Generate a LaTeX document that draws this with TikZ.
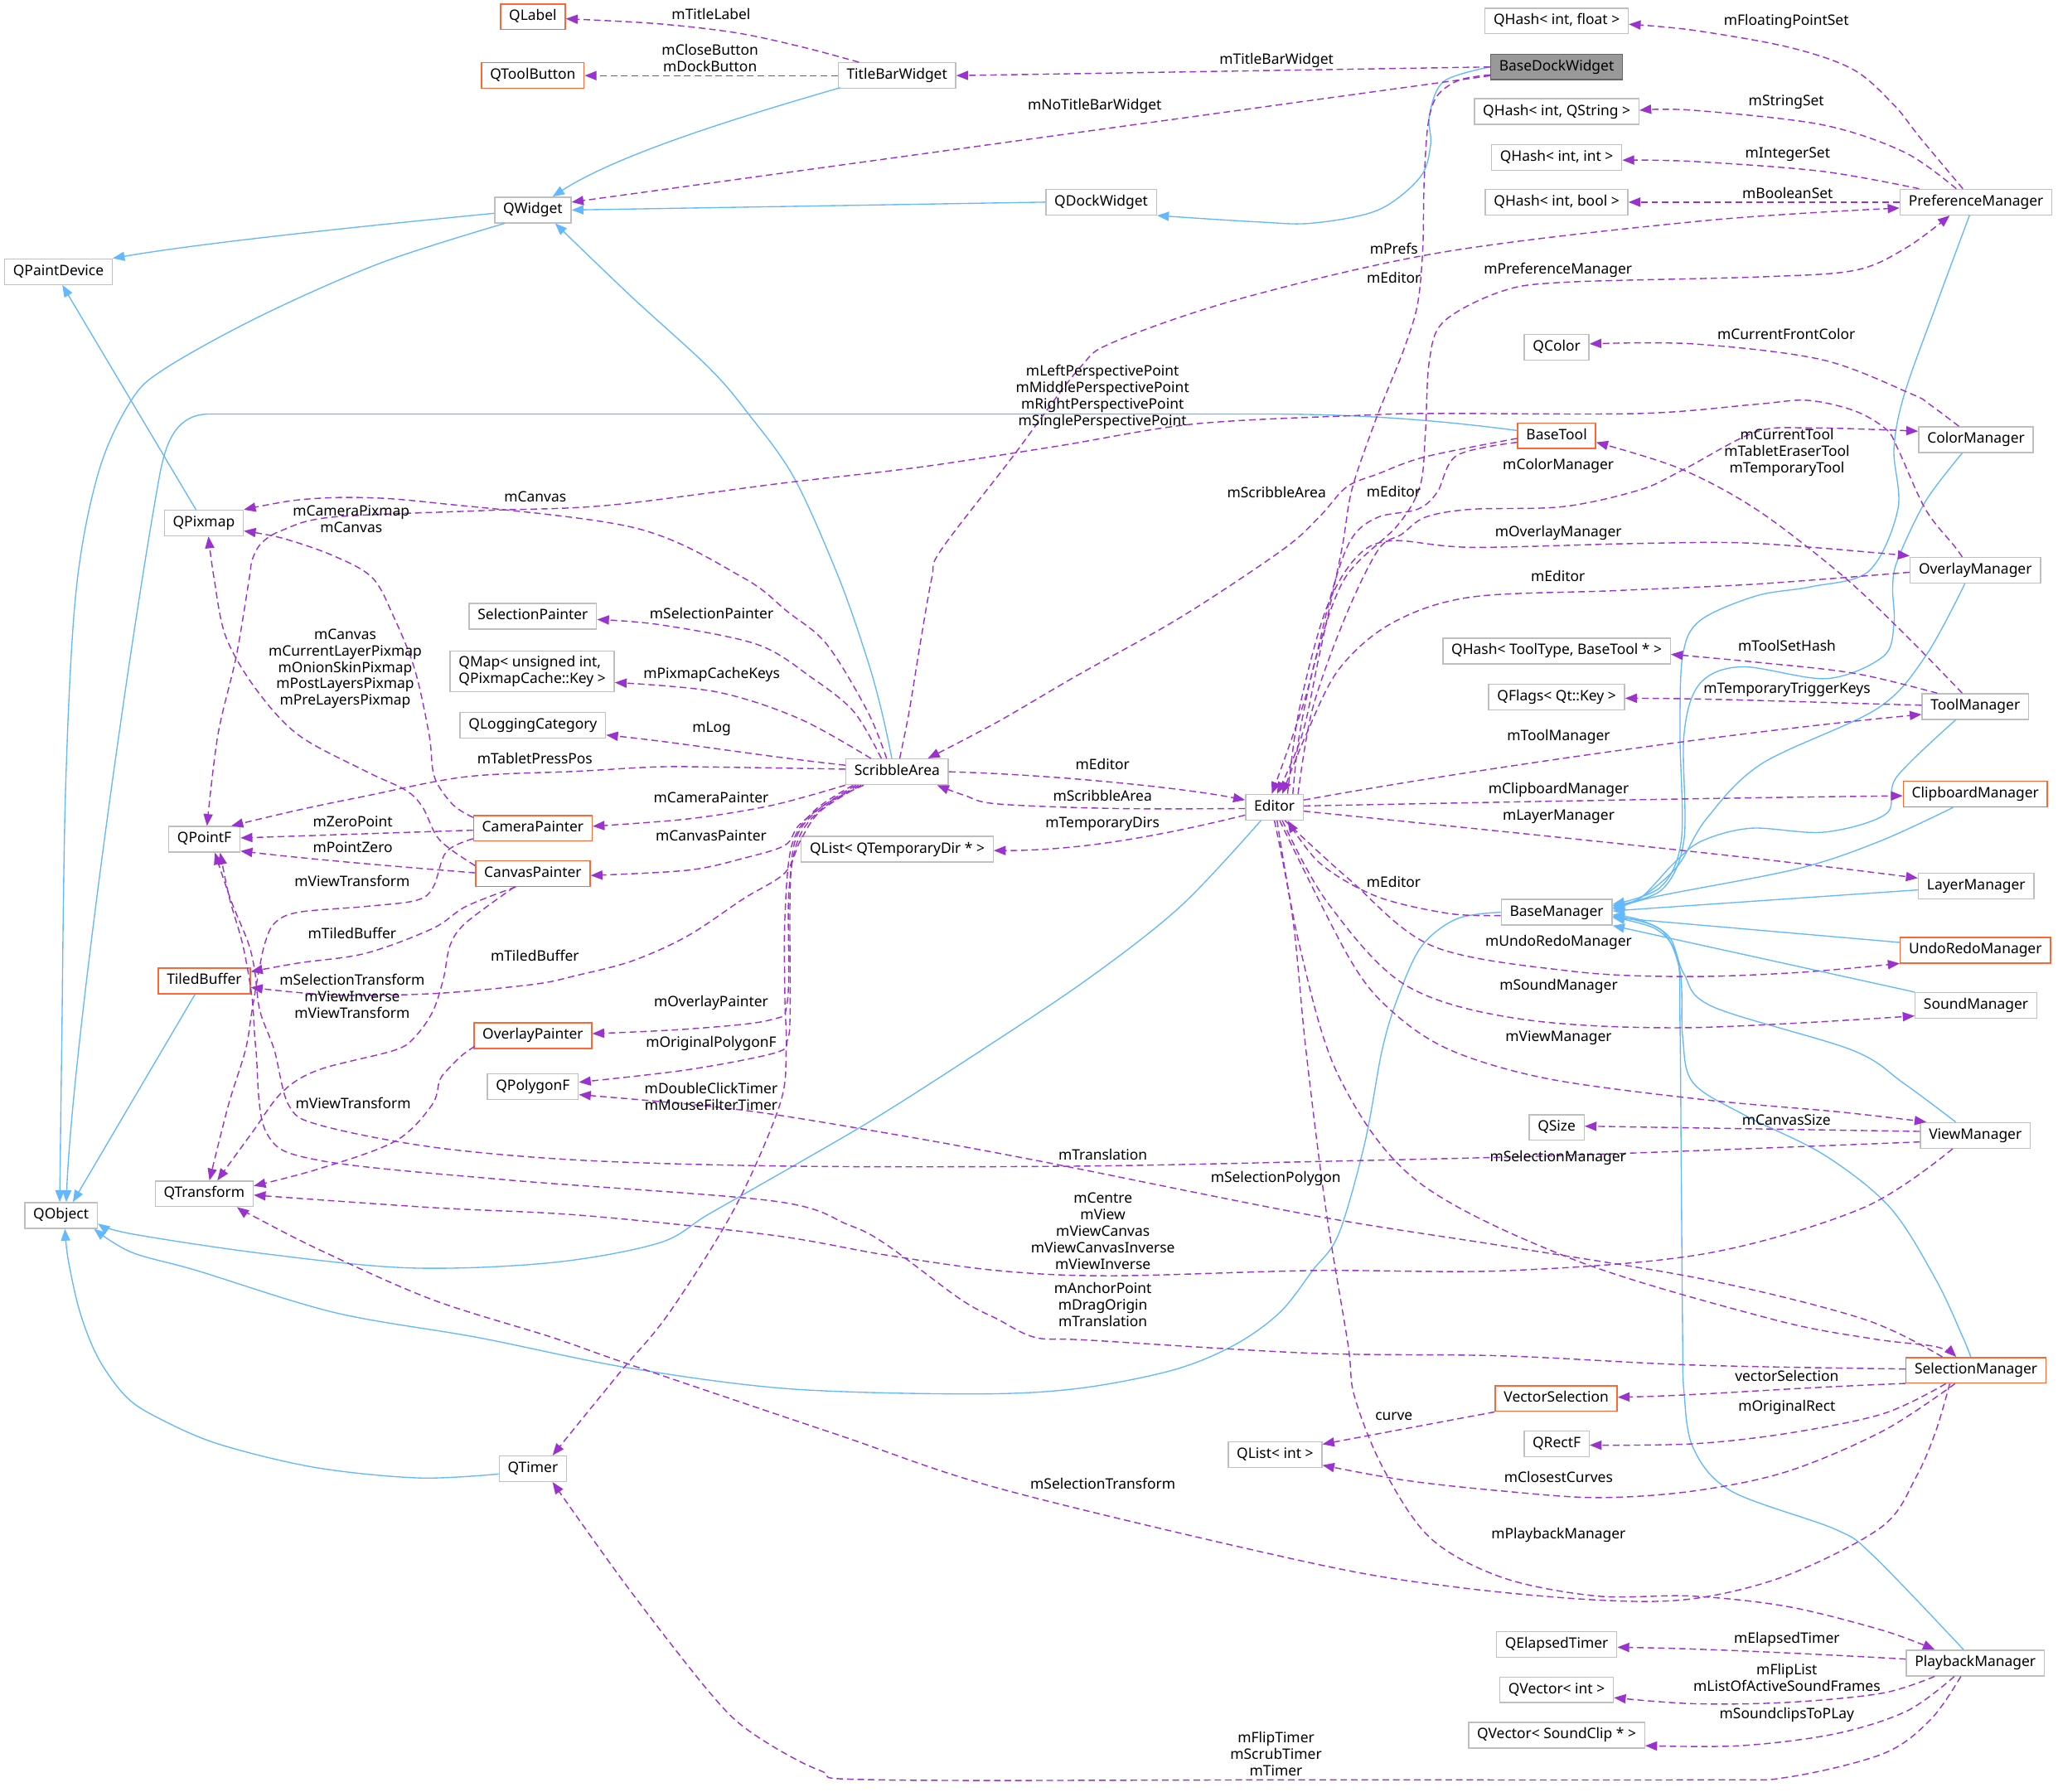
\documentclass[tikz,border=0pt]{standalone}
\usepackage{fontspec}
\setmainfont{Noto Sans}
\usetikzlibrary{arrows.meta,calc}
\definecolor{inhblue}{HTML}{63B8FF}
\definecolor{usepurple}{HTML}{9A32CD}
\definecolor{nodegray}{HTML}{BFBFBF}
\definecolor{nodered}{HTML}{FF6633}
\definecolor{maingray}{HTML}{999999}
\definecolor{mainborder}{HTML}{666666}
\newcommand\nf{\fontsize{11}{12.6}\selectfont}
\begin{document}
\begin{tikzpicture}[x=1pt,y=-1pt,
  cls/.style={draw=nodegray, fill=white, line width=0.9pt, minimum height=19.5pt, inner xsep=6.5pt, inner ysep=0pt, text height=8.2pt, text depth=2.6pt, font=\nf},
  rcls/.style={cls, draw=nodered},
  maincls/.style={cls, draw=mainborder, fill=maingray},
  inh/.style={draw=inhblue, line width=0.85pt, -{Triangle[length=9pt,width=7pt]}},
  usedge/.style={draw=usepurple, line width=0.9pt, dash pattern=on 5pt off 3pt, -{Triangle[length=9pt,width=7pt]}},
  lbl/.style={font=\nf, align=center, inner sep=0pt}]
\fill[white] (0,0) rectangle (1568,1365);
\useasboundingbox (0,0) rectangle (1568,1365);

% ---------- nodes ----------
\node[rcls] (QLabel) at (406,12.8) {QLabel};
\node[rcls] (QToolButton) at (406,57.6) {QToolButton};
\node[cls] (TitleBarWidget) at (683.4,57.6) {TitleBarWidget};
\node[maincls] (BaseDockWidget) at (1186,51) {BaseDockWidget};
\node[cls] (QHashFloat) at (1186,16) {QHash< int, float >};
\node[cls] (QHashString) at (1186,85) {QHash< int, QString >};
\node[cls] (QHashInt) at (1186,120) {QHash< int, int >};
\node[cls] (QHashBool) at (1186,154) {QHash< int, bool >};
\node[cls] (PreferenceManager) at (1505.5,154) {PreferenceManager};
\node[cls] (QWidget) at (406,160) {QWidget};
\node[cls] (QDockWidget) at (839,154) {QDockWidget};
\node[cls] (QPaintDevice) at (44.5,207) {QPaintDevice};
\node[cls] (QColor) at (1186,264.6) {QColor};
\node[rcls] (BaseTool) at (1186,332) {BaseTool};
\node[cls] (ColorManager) at (1505.5,335) {ColorManager};
\node[cls] (QPixmap) at (155.3,398.5) {QPixmap};
\node[cls] (OverlayManager) at (1505,434.5) {OverlayManager};
\node[cls] (SelectionPainter) at (406,469.5) {SelectionPainter};
\node[cls, align=left, inner ysep=3.5pt, text height=, text depth=] (QMap) at (405.5,511.5) {QMap< unsigned int,\\QPixmapCache::Key >};
\node[cls] (QHashToolType) at (1186,496) {QHash< ToolType, BaseTool * >};
\node[cls] (QFlags) at (1186,531) {QFlags< Qt::Key >};
\node[cls] (ToolManager) at (1505,538.3) {ToolManager};
\node[cls] (QLoggingCategory) at (406,552.5) {QLoggingCategory};
\node[cls] (ScribbleArea) at (683.5,588) {ScribbleArea};
\node[cls] (Editor) at (971,615) {Editor};
\node[rcls] (ClipboardManager) at (1505,605) {ClipboardManager};
\node[cls] (QPointF) at (155.7,639.4) {QPointF};
\node[rcls] (CameraPainter) at (406,631) {CameraPainter};
\node[cls] (QListTempDir) at (683.6,647) {QList< QTemporaryDir * >};
\node[rcls] (CanvasPainter) at (406,665.5) {CanvasPainter};
\node[cls] (LayerManager) at (1505.6,675) {LayerManager};
\node[cls] (BaseManager) at (1186,695) {BaseManager};
\node[rcls] (UndoRedoManager) at (1505,724) {UndoRedoManager};
\node[rcls] (TiledBuffer) at (155.6,747.3) {TiledBuffer};
\node[cls] (SoundManager) at (1505.5,766) {SoundManager};
\node[rcls] (OverlayPainter) at (406,789) {OverlayPainter};
\node[cls] (QPolygonF) at (406,828) {QPolygonF};
\node[cls] (QSize) at (1186,859) {QSize};
\node[cls] (ViewManager) at (1505,865) {ViewManager};
\node[cls] (QTransform) at (155.6,909.5) {QTransform};
\node[cls] (QObject) at (46.5,926) {QObject};
\node[rcls] (SelectionManager) at (1505.5,1044) {SelectionManager};
\node[rcls] (VectorSelection) at (1185.7,1065.5) {VectorSelection};
\node[cls] (QRectF) at (1186,1100) {QRectF};
\node[cls] (QListInt) at (971.5,1108.3) {QList< int >};
\node[cls] (QTimer) at (406,1119) {QTimer};
\node[cls] (QElapsedTimer) at (1186,1253) {QElapsedTimer};
\node[cls] (PlaybackManager) at (1505,1267) {PlaybackManager};
\node[cls] (QVectorInt) at (1186,1287.4) {QVector< int >};
\node[cls] (QVectorSoundClip) at (1186,1322) {QVector< SoundClip * >};

% ---------- inheritance (blue) ----------
\draw[inh] ($(TitleBarWidget.south west)+(2,-1)$) .. controls (560,90) and (470,118) .. ($(QWidget.north)+(15,0)$);
\draw[inh] plot[smooth,tension=.55] coordinates {(BaseDockWidget.west) (1100,62) (1089,88) (1090,110) (1082,135) (1050,160) (1000,170) (957,169) (QDockWidget.south east)};
\draw[inh] (QDockWidget.west) -- (QWidget.east);
\draw[inh] ($(QWidget.west)+(0,2.5)$) .. controls (300,170) and (160,184) .. (QPaintDevice.north east);
\draw[inh] plot[smooth,tension=.55] coordinates {($(QWidget.south west)+(8,0)$) (291,200) (200,240) (127,280) (100,305) (75,360) (58,450) (50,600) (47,800) ($(QObject.north)+(-1,0)$)};
\draw[inh] ($(QPixmap.north)+(-6,0)$) -- ($(QPaintDevice.south)+(3,0)$);
\draw[inh] plot[smooth,tension=.55] coordinates {($(ScribbleArea.north)+(-4,0)$) (672,543) (661,503) (639,440) (605,364) (570,315) (540,280) (480,225) ($(QWidget.south)+(17,0)$)};
\draw[inh] ($(BaseTool.west)+(0,-4)$) .. controls (1080,318) and (1020,315.4) .. (960,315.4) -- (160,315.4) .. controls (135,315.4) and (127,335) .. (122,360) .. controls (100,480) and (55,800) .. ($(QObject.north)+(4,0)$);
\draw[inh] ($(TiledBuffer.south)+(-7,0)$) -- ($(QObject.north)+(9,0)$);
\draw[inh] plot[smooth,tension=.55] coordinates {($(Editor.south west)+(12,0)$) (900,690) (830,745) (748,800) (670,850) (605,888) (540,925) (502,947) (420,962) (312,966) (200,955) (100,940) ($(QObject.south east)+(0,-4)$)};
\draw[inh] plot[smooth,tension=.55] coordinates {(BaseManager.west) (1110,700) (1083,721) (1065,760) (1053,800) (1040,870) (1020,940) (1000,968) (975,1000) (940,1025) (893,1044) (820,1058) (740,1062) (600,1058) (478,1042) (364,1019) (255,1000) (150,968) (100,954) ($(QObject.south east)+(-3,0)$)};
\draw[inh] plot[smooth,tension=.55] coordinates {($(QTimer.west)+(0,4)$) (319,1126) (240,1118) (166,1100) (120,1080) (96,1064) (75,1035) (61,1000) (52,960) ($(QObject.south)+(3,0)$)};
% managers -> BaseManager
\draw[inh] plot[smooth,tension=.55] coordinates {($(PreferenceManager.south)+(-5,0)$) (1475,233) (1451,300) (1443,342) (1446,388) (1424,435) (1380,447) (1338,454) (1295,473) (1282,500) (1280,560) (1281,640) (1265,676) ($(BaseManager.east)+(0,-6)$)};
\draw[inh] plot[smooth,tension=.55] coordinates {($(ColorManager.south)+(-10.5,0)$) (1467,382) (1446,426) (1442,447) (1443,475) (1435,500) (1392,517) (1327,508) (1295,521) (1283,560) (1283,640) (1266,678) ($(BaseManager.east)+(0,-5)$)};
\draw[inh] plot[smooth,tension=.55] coordinates {($(OverlayManager.south)+(-8,0)$) (1467,500) (1430,540) (1342,582) (1300,624) (1278,660) (1250,684) ($(BaseManager.east)+(0,-4)$)};
\draw[inh] plot[smooth,tension=.55] coordinates {($(ToolManager.south)+(-15,0)$) (1445,592) (1437,620) (1390,634) (1334,631) (1296,641) (1275,658) (1250,684) ($(BaseManager.east)+(0,-3)$)};
\draw[inh] plot[smooth,tension=.55] coordinates {($(ClipboardManager.south)+(-17,0)$) (1432,641) (1369,662) (1262,683) ($(BaseManager.east)+(0,-2)$)};
\draw[inh] ($(LayerManager.west)+(0,3)$) -- ($(BaseManager.east)+(0,-1)$);
\draw[inh] ($(UndoRedoManager.west)+(0,-6)$) -- ($(BaseManager.east)+(0,4)$);
\draw[inh] (SoundManager.north west) -- (BaseManager.south east);
\draw[inh] plot[smooth,tension=.55] coordinates {($(ViewManager.north)+(-15,0)$) (1450,825) (1411,800) (1305,767) (1283,742) (1272,714) (1250,701) ($(BaseManager.east)+(0,2)$)};
\draw[inh] plot[smooth,tension=.55] coordinates {($(SelectionManager.north)+(-4,0)$) (1496,1020) (1475,975) (1440,920) (1390,880) (1330,850) (1290,825) (1282,790) (1280,740) (1265,708) ($(BaseManager.east)+(0,3)$)};
\draw[inh] plot[smooth,tension=.55] coordinates {($(PlaybackManager.north)+(-9,0)$) (1427,1185) (1398,1165) (1319,1136) (1290,1103) (1283,1060) (1282,1020) (1281,900) (1280,780) (1278,730) (1262,708) ($(BaseManager.east)+(0,4)$)};

% ---------- usage (purple dashed) ----------
\draw[usedge] plot[smooth,tension=.55] coordinates {($(TitleBarWidget.north)+(-29,0)$) (612,36) (561,25) (500,18) ($(QLabel.east)+(0,1.5)$)};
\draw[usedge] (TitleBarWidget.west) -- (QToolButton.east);
\draw[usedge] (BaseDockWidget.west) -- (TitleBarWidget.east);
\draw[usedge] ($(BaseDockWidget.south west)+(0,-3.5)$) -- ($(QWidget.east)+(0,-6)$);
\draw[usedge] plot[smooth,tension=.55] coordinates {($(BaseDockWidget.west)+(0,6)$) (1112,61) (1095,73) (1088,95) (1085,140) (1084,190) (1080,232) (1070,265) (1056,300) (1047,323) (1030,373) (1022,420) (1005,500) (992,560) ($(Editor.north)+(2,0)$)};
\draw[usedge] plot[smooth,tension=.55] coordinates {($(PreferenceManager.north)+(-10,0)$) (1463,105) (1443,80) (1412,53) (1363,36) (1290,23) ($(QHashFloat.east)+(0,2.5)$)};
\draw[usedge] plot[smooth,tension=.55] coordinates {($(PreferenceManager.north)+(-15,0)$) (1451,116) (1388,95) (1290,84) ($(QHashString.east)+(0,-1)$)};
\draw[usedge] plot[smooth,tension=.55] coordinates {($(PreferenceManager.north west)+(15,0)$) (1388,130.5) (1290,123) ($(QHashInt.east)+(0,2)$)};
\draw[usedge] (PreferenceManager.west) -- (QHashBool.east);
\draw[usedge] plot[smooth,tension=.55] coordinates {($(ScribbleArea.north)+(2,0)$) (692.7,542) (701,491) (710,440) (717,419) (770,350) (822,281) (850,260) (947,227) (1100,192) (1300,168) ($(PreferenceManager.west)+(0,4.5)$)};
\draw[usedge] plot[smooth,tension=.55] coordinates {($(Editor.north)+(14,0)$) (990,560) (1003,500) (1025,440) (1065,400) (1082,370) (1086,330) (1089,275) (1100,245) (1144,222) (1193,215) (1340,211) (1413,206) (1452,189) ($(PreferenceManager.south)+(-20,0)$)};
\draw[usedge] plot[smooth,tension=.55] coordinates {($(ColorManager.north)+(-13,0)$) (1470,308) (1456,300) (1388,274) (1290,262) ($(QColor.east)+(0,-2.6)$)};
\draw[usedge] plot[smooth,tension=.55] coordinates {($(Editor.north)+(18,0)$) (1000,540) (1025,470) (1050,419) (1068,407) (1086,394) (1121,388) (1191,386) (1250,373) (1284,357) (1338,329) (1381,326) ($(ColorManager.west)+(0,-6.5)$)};
\draw[usedge] plot[smooth,tension=.55] coordinates {($(Editor.north)+(10,0)$) (990,540) (1010,465) (1033,425) (1060,412) (1121,417) (1250,414) (1338,414) ($(OverlayManager.west)+(0,-11)$)};
\draw[usedge] plot[smooth,tension=.55] coordinates {($(OverlayManager.west)+(0,1.5)$) (1338,445) (1230,450) (1120,455) (1060,475) (1020,510) (995,560) ($(Editor.north)+(6,0)$)};
\draw[usedge] plot[smooth,tension=.55] coordinates {($(BaseTool.west)+(0,2)$) (1086,348) (1050,361) (1026,371) (1005,394) (977,419) (900,470) (820,515) (760,550) ($(ScribbleArea.north east)+(-16,0)$)};
\draw[usedge] plot[smooth,tension=.55] coordinates {($(BaseTool.west)+(0,5)$) (1110,347) (1095,375) (1080,388) (1050,394) (1030,410) (1015,450) (995,530) ($(Editor.north)+(-2,0)$)};
\draw[usedge] plot[smooth,tension=.55] coordinates {($(ToolManager.north)+(-10,0)$) (1450,482) (1402,437) (1338,388) (1280,357) ($(BaseTool.east)+(0,5)$)};
\draw[usedge] plot[smooth,tension=.55] coordinates {($(ToolManager.north)+(-29,0)$) (1413,513) (1338,504.5) ($(QHashToolType.east)+(0,2.5)$)};
\draw[usedge] ($(ToolManager.west)+(0,-1)$) .. controls (1380,535) and (1300,532) .. ($(QFlags.east)+(0,1)$);
\draw[usedge] ($(Editor.east)+(0,-5.5)$) .. controls (1100,590) and (1300,560) .. ($(ToolManager.west)+(0,6)$);
\draw[usedge] ($(Editor.east)+(0,-1)$) .. controls (1100,612) and (1300,608) .. ($(ClipboardManager.west)+(0,1.3)$);
\draw[usedge] ($(Editor.east)+(0,3)$) .. controls (1150,634) and (1330,652) .. ($(LayerManager.west)+(0,-6)$);
\draw[usedge] plot[smooth,tension=.55] coordinates {($(BaseManager.west)+(0,2.5)$) (1104,696) (1049,683) (1006,658) ($(Editor.south)+(10,0)$)};
\draw[usedge] plot[smooth,tension=.55] coordinates {($(Editor.south)+(8,0)$) (1028,670) (1092,721) (1198,740) (1283,744) (1369,741) ($(UndoRedoManager.west)+(0,10)$)};
\draw[usedge] plot[smooth,tension=.55] coordinates {($(Editor.south)+(6,0)$) (1011,687) (1070,750) (1156,776) (1283,783) ($(SoundManager.west)+(0,8)$)};
\draw[usedge] plot[smooth,tension=.55] coordinates {($(Editor.south)+(4,0)$) (1028,730) (1060,770) (1105,800) (1180,822) (1300,838) (1400,847) ($(ViewManager.north west)+(5,0)$)};
\draw[usedge] plot[smooth,tension=.55] coordinates {($(Editor.south)+(2,0)$) (990,720) (1020,820) (1080,900) (1200,960) (1350,1005) (1427,1020) (1475,1026) ($(SelectionManager.north)+(-15,0)$)};
\draw[usedge] plot[smooth,tension=.55] coordinates {(Editor.south) (985,700) (995,800) (1010,920) (1027,1024) (1032,1064) (1054,1119) (1090,1172) (1145,1202) (1217,1216) (1289,1216) (1362,1224) (1434,1242) ($(PlaybackManager.north west)+(22,0)$)};
\draw[usedge] ($(Editor.west)+(0,6)$) .. controls (880,638) and (820,648) .. ($(QListTempDir.east)+(0,1)$);
\draw[usedge] plot[smooth,tension=.55] coordinates {($(Editor.west)+(0,1)$) (850,616) (760,612.5) (735,606) ($(ScribbleArea.south east)+(-9,0)$)};
\draw[usedge] (ScribbleArea.east) .. controls (800,590) and (900,600) .. ($(Editor.west)+(0,-5.5)$);
\draw[usedge] ($(ViewManager.west)+(0,-3)$) -- ($(QSize.east)+(0,-1)$);
\draw[usedge] plot[smooth,tension=.55] coordinates {($(ViewManager.west)+(0,5)$) (1200,880) (1000,885) (817,888.5) (605,888.5) (444,884) (330,874) (243,857) (220,842) (209,800) (198,770) (194,739) (189,718) (176,686) ($(QPointF.south)+(8,0)$)};
\draw[usedge] plot[smooth,tension=.55] coordinates {($(ViewManager.south west)+(25,0)$) (1420,920) (1300,955) (1150,968) (1000,968) (846,972) (760,968) (674,956) (588,941) (444,926) (329,920) ($(QTransform.east)+(0,1)$)};
\draw[usedge] plot[smooth,tension=.55] coordinates {($(SelectionManager.west)+(0,-1)$) (1290,1040) (1145,1033) (1000,1031) (829,1021) (789,1019) (760,1005) (732,990) (675,948) (646,933) (589,915) (387,899) (243,884) (203,863) (195,800) (192,760) (185,720) (175,685) ($(QPointF.south)+(12,0)$)};
\draw[usedge] plot[smooth,tension=.55] coordinates {($(SelectionManager.north west)+(28,0)$) (1420,1005) (1300,975) (1150,950) (1000,926) (789,884) (674,863) (560,845) ($(QPolygonF.east)+(0,6)$)};
\draw[usedge] ($(SelectionManager.west)+(0,10)$) .. controls (1350,1058) and (1300,1063) .. ($(VectorSelection.east)+(0,-1)$);
\draw[usedge] plot[smooth,tension=.55] coordinates {($(SelectionManager.south)+(-23,0)$) (1435,1077) (1362,1092) (1290,1100) ($(QRectF.east)+(0,1)$)};
\draw[usedge] plot[smooth,tension=.55] coordinates {($(SelectionManager.south)+(-16,0)$) (1435,1090) (1362,1121) (1290,1136) (1217,1141) (1145,1136) (1072,1128) ($(QListInt.east)+(0,8)$)};
\draw[usedge] (VectorSelection.south west) -- ($(QListInt.east)+(0,-8)$);
\draw[usedge] plot[smooth,tension=.55] coordinates {($(SelectionManager.south)+(-20,0)$) (1475,1090) (1460,1125) (1434,1163) (1362,1200) (1290,1218) (1217,1219) (1108,1209) (1000,1191) (765,1135) (638,1093) (478,1039) (421,1019) (329,990) (243,952) (192,926) ($(QTransform.south)+(25,0)$)};
\draw[usedge] ($(PlaybackManager.west)+(0,-3)$) .. controls (1380,1260) and (1300,1256) .. ($(QElapsedTimer.east)+(0,2)$);
\draw[usedge] plot[smooth,tension=.55] coordinates {($(PlaybackManager.south)+(-31,0)$) (1434,1290) (1362,1297) (1290,1298) ($(QVectorInt.east)+(0,6)$)};
\draw[usedge] plot[smooth,tension=.55] coordinates {($(PlaybackManager.south)+(-16,0)$) (1453,1303.5) (1398,1321) (1326,1330) ($(QVectorSoundClip.east)+(0,8)$)};
\draw[usedge] plot[smooth,tension=.55] coordinates {($(PlaybackManager.south)+(-11,0)$) (1471,1310) (1435,1336) (1362,1354) (1300,1356) (1000,1356) (669,1356) (625,1349) (574,1321) (542,1291) (478,1209) ($(QTimer.south)+(15,0)$)};
\draw[usedge] plot[smooth,tension=.55] coordinates {($(ScribbleArea.south west)+(6,0)$) (620,618) (603,645) (598,700) (598,760) (599,800) (594,842) (560,920) (510,1000) (472,1046) ($(QTimer.north)+(15,0)$)};
\draw[usedge] plot[smooth,tension=.55] coordinates {($(ScribbleArea.south west)+(8,0)$) (622,618) (606,640) (602,680) (602,770) (600,792) (591,802) (524,815) ($(QPolygonF.east)+(0,-3.5)$)};
\draw[usedge] plot[smooth,tension=.55] coordinates {($(ScribbleArea.south west)+(10,0)$) (624,618) (608,640) (601,680) (600,762) (587,777) (524,784) ($(OverlayPainter.east)+(0,-1.5)$)};
\draw[usedge] plot[smooth,tension=.55] coordinates {($(ScribbleArea.south west)+(12,0)$) (625,618) (610,640) (598,665) (566,685) (524,713) (482,732) (440,743) (406,750) (330,757) (253,758) ($(TiledBuffer.east)+(0,5)$)};
\draw[usedge] plot[smooth,tension=.55] coordinates {($(ScribbleArea.south west)+(14,0)$) (630,612) (608.5,629) (598,644) (566,654) (524,663) ($(CanvasPainter.east)+(0,1.5)$)};
\draw[usedge] plot[smooth,tension=.55] coordinates {(ScribbleArea.south west) (587.5,613.7) (524.3,623.9) ($(CameraPainter.east)+(0,-1.5)$)};
\draw[usedge] plot[smooth,tension=.55] coordinates {($(ScribbleArea.west)+(0,-2)$) (545,584.4) (500,584.3) (440,587.6) (355,591.8) (278.5,606.5) (227.4,617.1) ($(QPointF.north east)+(-7,0)$)};
\draw[usedge] ($(ScribbleArea.west)+(0,-5)$) .. controls (580,576) and (520,566) .. ($(QLoggingCategory.east)+(0,7.5)$);
\draw[usedge] plot[smooth,tension=.55] coordinates {($(ScribbleArea.north)+(-20,0)$) (608.5,547.3) (545.3,527) ($(QMap.east)+(0,8.5)$)};
\draw[usedge] plot[smooth,tension=.55] coordinates {($(ScribbleArea.north)+(-12,0)$) (650.6,542.3) (619,516.7) (577,491) (503,476) ($(SelectionPainter.east)+(0,2.5)$)};
\draw[usedge] plot[smooth,tension=.55] coordinates {($(ScribbleArea.north)+(-8,0)$) (661,542) (630,491) (600,466) (566,440) (483,402) (330,383) (272,379) (226,381) (QPixmap.north east)};
\draw[usedge] plot[smooth,tension=.55] coordinates {($(CameraPainter.north west)+(0,2)$) (345,613) (331,592) (327,560) (316,510) (300,470) (283.5,440) (253,423) (215,410) ($(QPixmap.east)+(0,6)$)};
\draw[usedge] plot[smooth,tension=.55] coordinates {($(CanvasPainter.west)+(0,-6)$) (335,640) (322,615) (309,602) (278.5,587.5) (227.4,560) (195,525) (172,485) (163,440) ($(QPixmap.south)+(3.5,0)$)};
\draw[usedge] plot[smooth,tension=.55] coordinates {($(OverlayManager.north)+(-10,0)$) (1489,416) (1467,388) (1446,342) (1437,327) (1413,313) (1377,305) (1338,308) (1250,315) (1093,315) (1037,316.4) (910,323) (805,340) (700,356) (597,368) (463,385) (368,389) (253,394) (215,404) (199,414) (192,427) (190,440) (180,500) (166,560) ($(QPointF.north)+(2,0)$)};
\draw[usedge] ($(CameraPainter.west)+(0,1.5)$) -- ($(QPointF.east)+(0,-1)$);
\draw[usedge] ($(CanvasPainter.west)+(0,-0.5)$) .. controls (300,660) and (240,655) .. ($(QPointF.east)+(0,9)$);
\draw[usedge] plot[smooth,tension=.55] coordinates {($(CameraPainter.west)+(0,8)$) (340,649) (330,676) (317,686) (278.5,690.6) (227.4,695) (209.5,703) (202,718) (197,741) (192,770) (187,800) (174,842) ($(QTransform.north)+(4,0)$)};
\draw[usedge] plot[smooth,tension=.55] coordinates {($(CanvasPainter.south)+(-14,0)$) (355,703) (343,720) (338,745) (330,770) (317,789) (301,800) (243,815) (215,832) (192,863) ($(QTransform.north)+(10,0)$)};
\draw[usedge] plot[smooth,tension=.55] coordinates {($(CanvasPainter.south)+(-13,0)$) (355,690.6) (329.6,707.4) (278.5,726.3) (227.4,733.7) ($(TiledBuffer.east)+(0,-7)$)};
\draw[usedge] plot[smooth,tension=.55] coordinates {($(OverlayPainter.south west)+(1,-2)$) (352,804) (341,815) (335,823) (329,842) (301,869.5) (243,890.5) ($(QTransform.east)+(0,-6)$)};

% ---------- labels ----------
\node[lbl] (l01) at (541.8,10.5) {mTitleLabel};
\node[lbl] (l02) at (541,44.2) {mCloseButton\\mDockButton};
\node[lbl] (l03) at (972.6,46) {mTitleBarWidget};
\node[lbl] (l04) at (834,81) {mNoTitleBarWidget};
\node[lbl] (l05) at (1361,16.4) {mFloatingPointSet};
\node[lbl] (l06) at (1361,78) {mStringSet};
\node[lbl] (l07) at (1362,117.5) {mIntegerSet};
\node[lbl] (l08) at (1362,147) {mBooleanSet};
\node[lbl] (l09) at (1062,189.4) {mPrefs};
\node[lbl] (l10) at (1062,211.5) {mEditor};
\node[lbl] (l11) at (1187,206) {mPreferenceManager};
\node[lbl] (l12) at (1361,254.7) {mCurrentFrontColor};
\node[lbl] (l13) at (840,302.7) {mLeftPerspectivePoint\\mMiddlePerspectivePoint\\mRightPerspectivePoint\\mSinglePerspectivePoint};
\node[lbl] (l14) at (1361.5,344.6) {mCurrentTool\\mTabletEraserTool\\mTemporaryTool};
\node[lbl] (l15) at (1187.3,354.9) {mColorManager};
\node[lbl] (l16) at (972.6,374.9) {mScribbleArea};
\node[lbl] (l17) at (1061.8,374.2) {mEditor};
\node[lbl] (l18) at (1187.3,406.3) {mOverlayManager};
\node[lbl] (l19) at (1187,439) {mEditor};
\node[lbl] (l20) at (407.8,378.7) {mCanvas};
\node[lbl] (l21) at (267.6,395.6) {mCameraPixmap\\mCanvas};
\node[lbl] (l22) at (263,509.5) {mCanvas\\mCurrentLayerPixmap\\mOnionSkinPixmap\\mPostLayersPixmap\\mPreLayersPixmap};
\node[lbl] (l23) at (542.2,467.4) {mSelectionPainter};
\node[lbl] (l24) at (542.2,514.2) {mPixmapCacheKeys};
\node[lbl] (l25) at (542.2,555.6) {mLog};
\node[lbl] (l26) at (1361.5,491.9) {mToolSetHash};
\node[lbl] (l27) at (1361.5,525.2) {mTemporaryTriggerKeys};
\node[lbl] (l28) at (1187.5,561.6) {mToolManager};
\node[lbl] (l29) at (407.5,578) {mTabletPressPos};
\node[lbl] (l30) at (840,582) {mEditor};
\node[lbl] (l31) at (840,606) {mScribbleArea};
\node[lbl] (l32) at (840,628) {mTemporaryDirs};
\node[lbl] (l33) at (541.8,607.4) {mCameraPainter};
\node[lbl] (l34) at (541.8,636.4) {mCanvasPainter};
\node[lbl] (l35) at (1187.5,602) {mClipboardManager};
\node[lbl] (l36) at (1187.5,622) {mLayerManager};
\node[lbl] (l37) at (268.8,626) {mZeroPoint};
\node[lbl] (l38) at (268.8,645.4) {mPointZero};
\node[lbl] (l39) at (268.3,671.2) {mViewTransform};
\node[lbl] (l40) at (1061.8,671.9) {mEditor};
\node[lbl] (l41) at (268.3,711.2) {mTiledBuffer};
\node[lbl] (l42) at (1187.5,718.2) {mUndoRedoManager};
\node[lbl] (l43) at (407.5,728) {mTiledBuffer};
\node[lbl] (l44) at (268.3,759) {mSelectionTransform\\mViewInverse\\mViewTransform};
\node[lbl] (l45) at (1187.5,751.4) {mSoundManager};
\node[lbl] (l46) at (541.8,764.1) {mOverlayPainter};
\node[lbl] (l47) at (1187.5,791) {mViewManager};
\node[lbl] (l48) at (541.8,794.8) {mOriginalPolygonF};
\node[lbl] (l49) at (541.8,835.2) {mDoubleClickTimer\\mMouseFilterTimer};
\node[lbl] (l50) at (269.1,840.7) {mViewTransform};
\node[lbl] (l51) at (1361,853) {mCanvasSize};
\node[lbl] (l52) at (840.3,879.6) {mTranslation};
\node[lbl] (l53) at (1187,882) {mSelectionManager};
\node[lbl] (l54) at (972,898) {mSelectionPolygon};
\node[lbl] (l55) at (840.3,937.9) {mCentre\\mView\\mViewCanvas\\mViewCanvasInverse\\mViewInverse};
\node[lbl] (l56) at (840.3,994.1) {mAnchorPoint\\mDragOrigin\\mTranslation};
\node[lbl] (l57) at (1361.4,1048.4) {vectorSelection};
\node[lbl] (l58) at (1361.4,1072.1) {mOriginalRect};
\node[lbl] (l59) at (1062,1079.2) {curve};
\node[lbl] (l60) at (1187.4,1125.3) {mClosestCurves};
\node[lbl] (l61) at (840.3,1130.4) {mSelectionTransform};
\node[lbl] (l62) at (1187.4,1169.3) {mPlaybackManager};
\node[lbl] (l63) at (1361.4,1248.9) {mElapsedTimer};
\node[lbl] (l64) at (1361.4,1278) {mFlipList\\mListOfActiveSoundFrames};
\node[lbl] (l65) at (1361.4,1306.7) {mSoundclipsToPLay};
\node[lbl] (l66) at (972.2,1336) {mFlipTimer\\mScrubTimer\\mTimer};
\end{tikzpicture}
\end{document}
